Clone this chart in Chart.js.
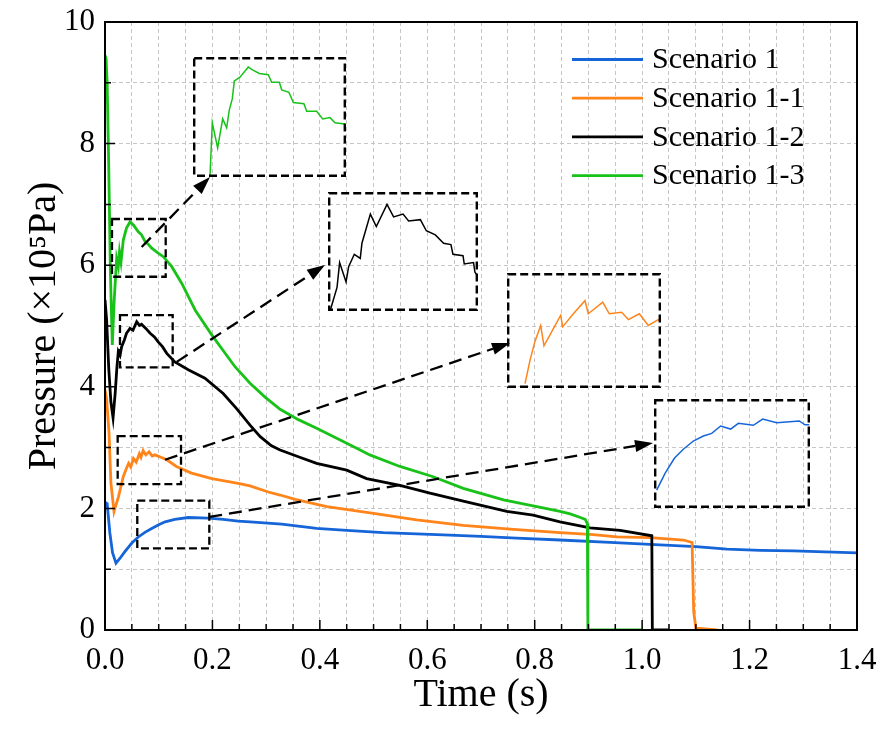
<!DOCTYPE html>
<html>
<head>
<meta charset="utf-8">
<title>Pressure history</title>
<script src="https://cdn.jsdelivr.net/npm/chart.js@4.4.1/dist/chart.umd.min.js"></script>
<style>
  html, body { margin: 0; padding: 0; background: #fff; }
  #wrap { position: relative; width: 879px; height: 735px; }
  #wrap canvas { position: absolute; }
</style>
</head>
<body>
<div id="wrap">
  <canvas id="main" width="879" height="735" style="left:0;top:0"></canvas>
</div>
<script>
const FONT = 'Liberation Serif';

// Scenario 1
const timeS1 = [0, 0.004, 0.009, 0.014, 0.0205, 0.028, 0.037, 0.05, 0.062, 0.075, 0.087, 0.1, 0.112, 0.13, 0.155, 0.192, 0.22, 0.248, 0.27, 0.329, 0.394, 0.45, 0.518, 0.58, 0.642, 0.7, 0.766, 0.847, 0.94, 1.033, 1.1, 1.158, 1.22, 1.282, 1.34, 1.4];
const pressS1 = [2.10, 2.08, 1.60, 1.27, 1.10, 1.18, 1.29, 1.43, 1.53, 1.61, 1.67, 1.73, 1.78, 1.82, 1.85, 1.84, 1.82, 1.79, 1.78, 1.74, 1.67, 1.64, 1.60, 1.58, 1.56, 1.54, 1.51, 1.48, 1.44, 1.40, 1.37, 1.33, 1.31, 1.30, 1.285, 1.27];

// Scenario 1-1
const timeS11 = [0, 0.003, 0.0075, 0.011, 0.0168, 0.025, 0.034, 0.040, 0.044, 0.048, 0.053, 0.058, 0.064, 0.067, 0.071, 0.076, 0.082, 0.088, 0.093, 0.104, 0.115, 0.133, 0.161, 0.199, 0.248, 0.27, 0.304, 0.326, 0.354, 0.413, 0.5, 0.58, 0.667, 0.754, 0.847, 0.909, 0.953, 1.015, 1.077, 1.093, 1.096, 1.1, 1.14];
const pressS11 = [3.95, 3.80, 3.24, 2.42, 1.95, 2.19, 2.52, 2.66, 2.74, 2.68, 2.82, 2.76, 2.90, 2.84, 2.95, 2.88, 2.93, 2.86, 2.88, 2.84, 2.80, 2.69, 2.58, 2.49, 2.41, 2.37, 2.27, 2.22, 2.15, 2.03, 1.92, 1.81, 1.72, 1.66, 1.60, 1.57, 1.53, 1.52, 1.48, 1.44, 0.30, 0.03, 0];

// Scenario 1-2
const timeS12 = [0, 0.003, 0.007, 0.011, 0.015, 0.019, 0.022, 0.0248, 0.028, 0.031, 0.036, 0.040, 0.0465, 0.052, 0.059, 0.064, 0.068, 0.076, 0.084, 0.092, 0.099, 0.107, 0.115, 0.13, 0.155, 0.186, 0.22, 0.245, 0.27, 0.289, 0.31, 0.326, 0.36, 0.394, 0.45, 0.487, 0.549, 0.605, 0.667, 0.748, 0.797, 0.847, 0.903, 0.959, 1.018, 1.019, 1.05];
const pressS12 = [5.43, 5.10, 4.30, 3.75, 3.49, 3.90, 4.30, 4.58, 4.52, 4.66, 4.77, 4.88, 4.96, 4.93, 5.07, 5.01, 5.03, 4.96, 4.88, 4.82, 4.74, 4.66, 4.55, 4.41, 4.28, 4.14, 3.89, 3.64, 3.37, 3.18, 3.03, 2.96, 2.85, 2.74, 2.63, 2.49, 2.38, 2.25, 2.12, 1.95, 1.89, 1.78, 1.68, 1.64, 1.55, 0, 0];

// Scenario 1-3
const timeS13 = [0, 0.002, 0.004, 0.007, 0.010, 0.0136, 0.017, 0.0217, 0.0248, 0.027, 0.0298, 0.034, 0.040, 0.0465, 0.053, 0.062, 0.068, 0.0745, 0.081, 0.087, 0.093, 0.099, 0.1086, 0.124, 0.143, 0.168, 0.199, 0.242, 0.27, 0.298, 0.326, 0.36, 0.394, 0.45, 0.475, 0.493, 0.549, 0.611, 0.667, 0.742, 0.804, 0.847, 0.866, 0.885, 0.894, 0.898, 0.899, 1.0];
const pressS13 = [9.45, 9.40, 9.00, 7.60, 5.90, 4.69, 5.40, 6.11, 5.98, 6.22, 6.05, 6.41, 6.61, 6.71, 6.66, 6.55, 6.50, 6.39, 6.34, 6.28, 6.24, 6.20, 6.14, 5.98, 5.70, 5.26, 4.85, 4.33, 4.06, 3.83, 3.63, 3.46, 3.32, 3.07, 2.96, 2.88, 2.69, 2.52, 2.33, 2.14, 2.03, 1.95, 1.91, 1.85, 1.82, 1.75, 0, 0];

// finer samples of the early peak, shown magnified
const zoomTimeS1 = [0.0624, 0.0696, 0.0776, 0.0853, 0.0939, 0.1025, 0.1097, 0.1174, 0.1260, 0.1326, 0.1455, 0.1535, 0.1656, 0.1850, 0.1899, 0.1936];
const zoomPressS1 = [1.473, 1.593, 1.701, 1.766, 1.825, 1.861, 1.880, 1.933, 1.911, 1.952, 1.938, 1.983, 1.957, 1.969, 1.942, 1.942];
const zoomTimeS11 = [0.0374, 0.0412, 0.0450, 0.0494, 0.0519, 0.0586, 0.0647, 0.0662, 0.0744, 0.0833, 0.0858, 0.0969, 0.1019, 0.1114, 0.1165, 0.1249, 0.1318, 0.1394, 0.1407];
const zoomPressS11 = [2.43, 2.59, 2.72, 2.83, 2.69, 2.80, 2.90, 2.82, 2.91, 3.00, 2.91, 2.99, 2.91, 2.92, 2.87, 2.91, 2.83, 2.87, 2.86];
const zoomTimeS12 = [0.0294, 0.0338, 0.0355, 0.0397, 0.0414, 0.0451, 0.0490, 0.0501, 0.0556, 0.0595, 0.0665, 0.0708, 0.0770, 0.0806, 0.0883, 0.0922, 0.0981, 0.1035, 0.1083, 0.1096, 0.1162, 0.1170, 0.1231, 0.1240, 0.1260];
const zoomPressS12 = [4.325, 4.49, 4.67, 4.53, 4.64, 4.73, 4.70, 4.81, 5.02, 4.93, 5.09, 5.00, 5.02, 4.97, 4.98, 4.90, 4.87, 4.81, 4.80, 4.73, 4.72, 4.66, 4.67, 4.60, 4.57];
const zoomTimeS13 = [0.0241, 0.0256, 0.0291, 0.0324, 0.0350, 0.0367, 0.0387, 0.0400, 0.0437, 0.0491, 0.0516, 0.0563, 0.0622, 0.0644, 0.0694, 0.0710, 0.0757, 0.0786, 0.0855, 0.0873, 0.0938, 0.0978, 0.1025, 0.1058, 0.1123];
const zoomPressS13 = [5.81, 6.24, 6.04, 6.27, 6.20, 6.34, 6.43, 6.57, 6.60, 6.68, 6.66, 6.63, 6.62, 6.56, 6.56, 6.50, 6.48, 6.40, 6.39, 6.33, 6.33, 6.27, 6.28, 6.24, 6.23];

const seriesNames = ['Scenario 1', 'Scenario 1-1', 'Scenario 1-2', 'Scenario 1-3'];
const seriesTime = [timeS1, timeS11, timeS12, timeS13];
const seriesPress = [pressS1, pressS11, pressS12, pressS13];
const seriesColors = ['#1565d8', '#ff841a', '#000000', '#19c219'];

// each magnified window: data range, page box [left, top, w, h],
// arrow start (data) and arrow tip (offset inside the box)
const zooms = [
  {series: 3, t: [0.013, 0.113], p: [5.81, 6.76], box: [193, 57, 153, 120], from: [0.0683, 6.30], tip: [17, 120], time: zoomTimeS13, press: zoomPressS13},
  {series: 2, t: [0.0279, 0.126], p: [4.32, 5.18], box: [328, 192, 150, 119], from: [0.1335, 4.41], tip: [-3, 73], time: zoomTimeS12, press: zoomPressS12},
  {series: 1, t: [0.0236, 0.1415], p: [2.40, 3.19], box: [507, 273, 154, 115], from: [0.1117, 2.80], tip: [3, 70], time: zoomTimeS11, press: zoomPressS11},
  {series: 0, t: [0.0601, 0.1942], p: [1.344, 2.127], box: [654, 399, 156, 109], from: [0.194, 1.86], tip: [-1, 44], time: zoomTimeS1, press: zoomPressS1}
];

const pts = (t, p) => t.map((x, i) => ({x: x, y: p[i]}));
const near = (v, step) => Math.abs(v / step - Math.round(v / step)) < 1e-6;

function arrow(ctx, x0, y0, x1, y1)
{
  const ang = Math.atan2(y1 - y0, x1 - x0);
  const head = 18, half = 6;
  const bx = x1 - head * Math.cos(ang), by = y1 - head * Math.sin(ang);
  ctx.setLineDash([13, 7]);
  ctx.beginPath();
  ctx.moveTo(x0, y0);
  ctx.lineTo(bx, by);
  ctx.stroke();
  ctx.setLineDash([]);
  ctx.beginPath();
  ctx.moveTo(x1, y1);
  ctx.lineTo(bx + half * Math.sin(ang), by - half * Math.cos(ang));
  ctx.lineTo(bx - half * Math.sin(ang), by + half * Math.cos(ang));
  ctx.closePath();
  ctx.fill();
}

// axis frame plus inward tick marks
const framePlugin = {
  id: 'frame',
  afterDraw(chart)
  {
    const {ctx, chartArea: a, scales: {x, y}} = chart;
    ctx.save();
    ctx.setLineDash([]);
    ctx.strokeStyle = '#000';
    ctx.lineWidth = 2;
    ctx.strokeRect(a.left, a.top, a.right - a.left, a.bottom - a.top);
    ctx.lineWidth = 1.5;
    ctx.beginPath();
    x.ticks.forEach(t =>
    {
      const px = x.getPixelForValue(t.value);
      ctx.moveTo(px, a.bottom);
      ctx.lineTo(px, a.bottom - (near(t.value, 0.2) ? 10 : 6));
    });
    y.ticks.forEach(t =>
    {
      const py = y.getPixelForValue(t.value);
      ctx.moveTo(a.left, py);
      ctx.lineTo(a.left + (near(t.value, 2) ? 10 : 6), py);
    });
    ctx.stroke();
    ctx.restore();
  }
};

// dashed windows on the curves and arrows to their magnified boxes
const zoomMarksPlugin = {
  id: 'zoomMarks',
  afterDatasetsDraw(chart)
  {
    const {ctx, scales: {x, y}} = chart;
    ctx.save();
    ctx.strokeStyle = '#000';
    ctx.fillStyle = '#000';
    ctx.lineWidth = 2.3;
    zooms.forEach(z =>
    {
      const x0 = x.getPixelForValue(z.t[0]), x1 = x.getPixelForValue(z.t[1]);
      const y0 = y.getPixelForValue(z.p[1]), y1 = y.getPixelForValue(z.p[0]);
      ctx.setLineDash([8, 4]);
      ctx.strokeRect(x0, y0, x1 - x0, y1 - y0);
      arrow(ctx, x.getPixelForValue(z.from[0]), y.getPixelForValue(z.from[1]),
        z.box[0] + z.tip[0], z.box[1] + z.tip[1]);
    });
    ctx.restore();
  }
};

const legendPlugin = {
  id: 'cornerLegend',
  afterDraw(chart)
  {
    const {ctx, chartArea: a} = chart;
    ctx.save();
    ctx.font = '30px "' + FONT + '"';
    ctx.textBaseline = 'middle';
    ctx.fillStyle = '#000';
    chart.data.datasets.forEach((ds, i) =>
    {
      const ly = a.top + 37.5 + i * 38.7;
      ctx.strokeStyle = ds.borderColor;
      ctx.lineWidth = 2.8;
      ctx.beginPath();
      ctx.moveTo(a.right - 285, ly);
      ctx.lineTo(a.right - 214, ly);
      ctx.stroke();
      ctx.fillText(ds.label, a.right - 205, ly + 1);
    });
    ctx.restore();
  }
};

const tickFont = {family: FONT, size: 31};
const titleFont = {family: FONT, size: 40};
const gridOpts = {color: '#c6c6c6', lineWidth: 1, drawTicks: false};

new Chart(document.getElementById('main'),
{
  type: 'scatter',
  data:
  {
    datasets: seriesNames.map((name, i) => ({
      label: name,
      data: pts(seriesTime[i], seriesPress[i]),
      showLine: true,
      borderColor: seriesColors[i],
      borderWidth: 2.8,
      pointRadius: 0,
      order: 3 - i
    }))
  },
  options:
  {
    responsive: false,
    animation: false,
    devicePixelRatio: 1,
    events: [],
    layout: {padding: {left: 0, top: 22, right: 22, bottom: 0}},
    plugins: {legend: {display: false}, tooltip: {enabled: false}},
    scales:
    {
      x:
      {
        type: 'linear', min: 0, max: 1.4,
        afterFit: (s) => { s.height = 105; s.paddingLeft = 0; s.paddingRight = 0; },
        grid: gridOpts,
        border: {display: false, dash: [4, 3]},
        ticks:
        {
          stepSize: 0.05, autoSkip: false, maxRotation: 0, padding: 12,
          color: '#000', font: tickFont,
          callback: (v) => near(v, 0.2) ? v.toFixed(1) : ''
        },
        title: {display: true, text: 'Time (s)', color: '#000', font: titleFont, padding: {top: 0, bottom: 16}}
      },
      y:
      {
        type: 'linear', min: 0, max: 10,
        afterFit: (s) => { s.width = 105; s.paddingTop = 0; s.paddingBottom = 0; },
        grid: gridOpts,
        border: {display: false, dash: [4, 3]},
        ticks:
        {
          stepSize: 1, padding: 10, color: '#000', font: tickFont,
          callback: (v) => near(v, 2) ? String(Math.round(v)) : ''
        },
        title: {display: true, text: 'Pressure (×10⁵Pa)', color: '#000', font: titleFont, padding: {top: 20, bottom: 0}}
      }
    }
  },
  plugins: [zoomMarksPlugin, framePlugin, legendPlugin]
});

// the magnified boxes sit on top of the main canvas
const boxPlugin = {
  id: 'dashedBox',
  afterDraw(chart)
  {
    const {ctx, width, height} = chart;
    ctx.save();
    ctx.setLineDash([8, 4]);
    ctx.strokeStyle = '#000';
    ctx.lineWidth = 2.4;
    ctx.strokeRect(1.2, 1.2, width - 2.4, height - 2.4);
    ctx.restore();
  }
};

const wrap = document.getElementById('wrap');
zooms.forEach(z =>
{
  const [left, top, w, h] = z.box;
  const cv = document.createElement('canvas');
  cv.width = w;
  cv.height = h;
  cv.style.left = left + 'px';
  cv.style.top = top + 'px';
  wrap.appendChild(cv);
  new Chart(cv,
  {
    type: 'scatter',
    data: {datasets: [{data: pts(z.time, z.press), showLine: true, borderColor: seriesColors[z.series], borderWidth: 1.5, pointRadius: 0}]},
    options:
    {
      responsive: false, animation: false, devicePixelRatio: 1, events: [],
      layout: {padding: 0},
      plugins: {legend: {display: false}, tooltip: {enabled: false}},
      scales:
      {
        x: {type: 'linear', display: false, min: z.t[0], max: z.t[1]},
        y: {type: 'linear', display: false, min: z.p[0], max: z.p[1]}
      }
    },
    plugins: [boxPlugin]
  });
});
</script>
</body>
</html>
